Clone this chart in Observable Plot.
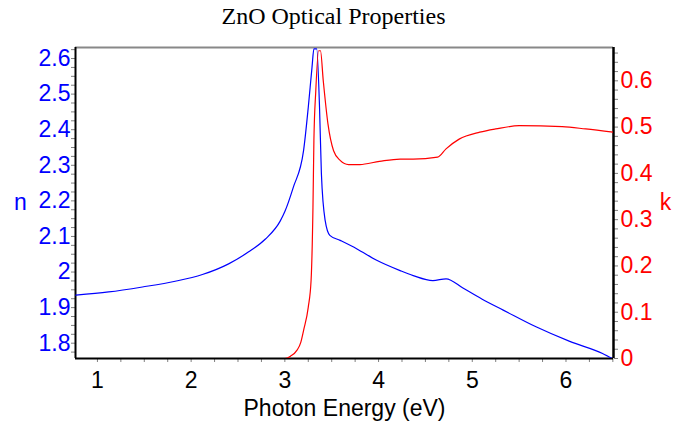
<!DOCTYPE html>
<html>
<head>
<meta charset="utf-8">
<script src="https://cdn.jsdelivr.net/npm/d3@7"></script>
<script src="https://cdn.jsdelivr.net/npm/@observablehq/plot@0.6"></script>
<style>
  body { margin: 0; background: #fff; }
  #chart svg { display: block; }
</style>
</head>
<body>
<div id="chart"></div>
<script>
// ---- Text ----
const title = "ZnO Optical Properties";
const xLabel = "Photon Energy (eV)";
const nLabel = "n";
const kLabel = "k";

// ---- Refractive index n (blue, left axis) ----
const energyN = [0.77, 1.12, 1.48, 1.83, 2.12, 2.40, 2.61, 2.79, 2.95, 3.00, 3.09, 3.20, 3.25, 3.29, 3.31, 3.34, 3.37, 3.39, 3.43, 3.48, 3.59, 3.77, 3.98, 4.23, 4.37, 4.58, 4.72, 4.90, 5.13, 5.33, 5.68, 6.04, 6.39, 6.50];
const nValues = [1.935, 1.944, 1.958, 1.974, 1.993, 2.023, 2.056, 2.092, 2.143, 2.170, 2.238, 2.342, 2.463, 2.576, 2.627, 2.627, 2.463, 2.276, 2.145, 2.103, 2.089, 2.065, 2.033, 2.004, 1.990, 1.976, 1.981, 1.955, 1.920, 1.893, 1.846, 1.805, 1.771, 1.756];

// ---- Extinction coefficient k (red, right axis) ----
const energyK = [0.77, 3.00, 3.06, 3.13, 3.17, 3.20, 3.25, 3.28, 3.30, 3.31, 3.33, 3.36, 3.38, 3.41, 3.46, 3.52, 3.59, 3.68, 3.80, 4.01, 4.23, 4.37, 4.63, 4.72, 4.86, 5.08, 5.25, 5.50, 5.96, 6.21, 6.50];
const kValues = [0, 0, 0.005, 0.018, 0.035, 0.061, 0.111, 0.169, 0.327, 0.471, 0.578, 0.665, 0.665, 0.600, 0.507, 0.449, 0.428, 0.419, 0.419, 0.426, 0.431, 0.431, 0.435, 0.453, 0.474, 0.489, 0.496, 0.503, 0.501, 0.496, 0.489];

// ---- Tick labels ----
const xTickLabels = [1, 2, 3, 4, 5, 6];
const nTickLabels = [1.8, 1.9, 2.0, 2.1, 2.2, 2.3, 2.4, 2.5, 2.6];
const kTickLabels = [0, 0.1, 0.2, 0.3, 0.4, 0.5, 0.6];

// ---- Scales ----
const xDomain = [0.766, 6.507];
const nDomain = [1.757, 2.631];
const kDomain = [0, 0.672];
const ratio = (nDomain[1] - nDomain[0]) / (kDomain[1] - kDomain[0]);
const kToN = k => nDomain[0] + (k - kDomain[0]) * ratio;
const nToK = n => kDomain[0] + (n - nDomain[0]) / ratio;
const fmt = v => String(+v.toFixed(3));

const xMinor = d3.range(1, 6.51, 0.25);
const nMinor = d3.range(1.775, 2.63, 0.025);
const kMinor = d3.range(0, 0.671, 0.02);

const nData = energyN.map((e, i) => ({e, v: nValues[i]}));
const kData = energyK.map((e, i) => ({e, v: kToN(kValues[i])}));

const sans = "'Liberation Sans', Arial, sans-serif";
const serif = "'Liberation Serif', 'Times New Roman', serif";
const tickGray = "#808080";
const fs = 23;

const chart = Plot.plot({
  width: 687,
  height: 422,
  marginLeft: 75,
  marginRight: 74,
  marginTop: 47,
  marginBottom: 64,
  style: {fontFamily: sans, fontSize: fs + "px", background: "#fff", color: "black"},
  x: {domain: xDomain},
  y: {domain: nDomain},
  marks: [
    // minor/major tick marks
    Plot.axisX({ticks: xMinor, tickSize: 4, stroke: tickGray, fill: "none", label: null}),
    Plot.axisY({anchor: "left", ticks: nMinor, tickSize: 4, stroke: tickGray, fill: "none", label: null}),
    Plot.axisY({anchor: "right", ticks: kMinor.map(kToN), tickSize: 4, stroke: tickGray, fill: "none", label: null}),
    // tick labels
    Plot.axisX({ticks: xTickLabels, tickSize: 4, tickPadding: 9, stroke: "none", fill: "black", fontSize: fs, tickFormat: d => fmt(d), label: null}),
    Plot.axisY({anchor: "left", ticks: nTickLabels, tickSize: 4, tickPadding: 1, stroke: "none", fill: "#0000ff", fontSize: fs, tickFormat: d => fmt(d), label: null}),
    Plot.axisY({anchor: "right", ticks: kTickLabels.map(kToN), tickSize: 4, tickPadding: 3, stroke: "none", fill: "#ff0000", fontSize: fs, tickFormat: d => fmt(nToK(d)), label: null}),
    // frame
    Plot.ruleY([nDomain[1]], {stroke: "#888", strokeWidth: 2}),
    Plot.ruleX([xDomain[0]], {stroke: "black", strokeWidth: 2}),
    Plot.ruleX([xDomain[1]], {stroke: "black", strokeWidth: 2.5}),
    Plot.ruleY([nDomain[0]], {stroke: "black", strokeWidth: 2}),
    // data
    Plot.line(nData, {x: "e", y: "v", stroke: "#0000ff", strokeWidth: 1.2, curve: "monotone-x", clip: true}),
    Plot.line(kData, {x: "e", y: "v", stroke: "#ff0000", strokeWidth: 1.2, curve: "monotone-x", clip: true}),
    // texts
    Plot.text([title], {text: d => d, frameAnchor: "top", lineAnchor: "middle", dy: -31, dx: -11, fontFamily: serif, fontSize: 24, fill: "black"}),
    Plot.text([nLabel], {text: d => d, frameAnchor: "left", lineAnchor: "middle", dx: -55, textAnchor: "middle", fontSize: fs, fill: "#0000ff"}),
    Plot.text([kLabel], {text: d => d, frameAnchor: "right", lineAnchor: "middle", dx: 52, textAnchor: "middle", fontSize: fs, fill: "#ff0000"}),
    Plot.text([xLabel], {text: d => d, frameAnchor: "bottom", lineAnchor: "middle", dy: 50, fontSize: fs, fill: "black"})
  ]
});
document.getElementById("chart").appendChild(chart);
</script>
</body>
</html>
